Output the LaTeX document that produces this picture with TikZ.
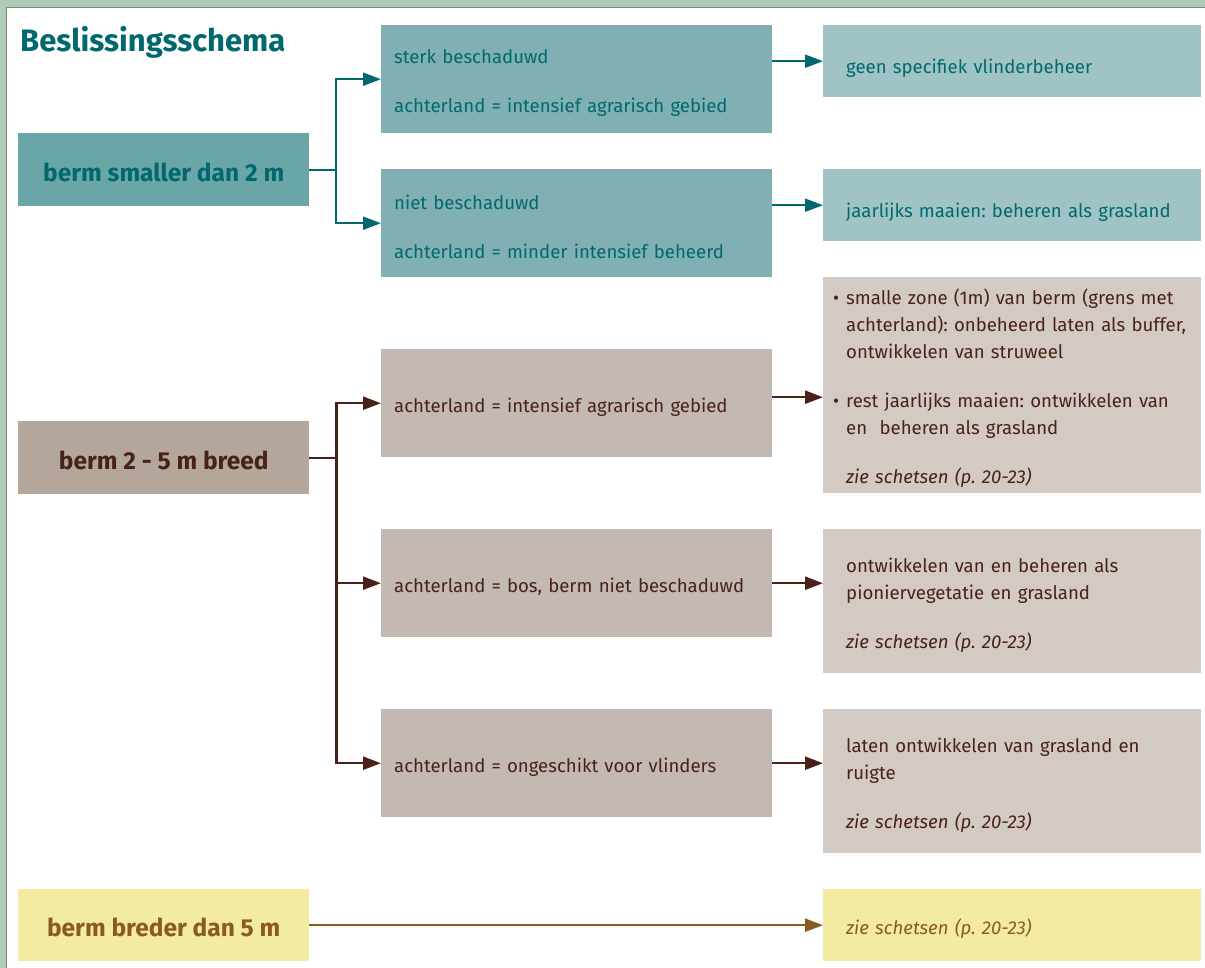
\documentclass[tikz,border=0pt]{standalone}
\usepackage{fontspec}
\setmainfont{Fira Sans}
\frenchspacing
\usetikzlibrary{positioning}
\usetikzlibrary{calc}
\usetikzlibrary{arrows.meta}

\definecolor{tealdark}{RGB}{0,105,110}
\definecolor{tealA}{RGB}{106,165,168}
\definecolor{tealB}{RGB}{128,176,179}
\definecolor{tealC}{RGB}{160,196,197}
\definecolor{browndark}{RGB}{72,34,24}
\definecolor{brownA}{RGB}{181,166,156}
\definecolor{brownB}{RGB}{195,184,178}
\definecolor{brownC}{RGB}{211,202,195}
\definecolor{gold}{RGB}{139,90,30}
\definecolor{yellowbox}{RGB}{242,235,160}
\definecolor{edgegreen}{RGB}{174,203,184}
\definecolor{edgeline}{RGB}{125,140,110}

\begin{document}
\begin{tikzpicture}[x=1pt, y=-1pt,
			box/.style={anchor=north west, inner ysep=0pt, align=left, font=\fontsize{18.6}{27}\selectfont},
			keybox/.style={anchor=north west, inner sep=0pt, minimum width=291pt, minimum height=73pt, text height=23pt, text depth=0pt, font=\fontsize{24.5}{28}\selectfont\bfseries},
			midbox/.style={box, minimum width=391pt, minimum height=108pt, inner xsep=0pt, text width=391pt, execute at begin node={\leftskip=13pt\rule{0pt}{22pt}}},
			endbox/.style={box, minimum width=378pt, inner xsep=0pt, text width=378pt, execute at begin node={\leftskip=23pt\rule{0pt}{22pt}}},
			shortbox/.style={endbox, minimum height=72pt, execute at begin node={\leftskip=23pt\rule{0pt}{28pt}}},
			tealarrow/.style={draw=tealdark, line width=2pt, -{Triangle[length=18pt,width=13pt]}},
			brownarrow/.style={draw=browndark, line width=2.4pt, -{Triangle[length=18pt,width=13pt]}},
			goldarrow/.style={draw=gold, line width=2.4pt, -{Triangle[length=18pt,width=13pt]}}
		]
			\useasboundingbox (0,0) rectangle (1205,968);
			\fill[white] (0,0) rectangle (1205,968);
			\fill[edgegreen] (0,0) rectangle (1205,7);
			\fill[edgegreen] (0,0) rectangle (6,968);
			\draw[edgeline, line width=1pt] (6.5,968) -- (6.5,7.5) -- (1205,7.5);

			\node[anchor=base west, inner sep=0pt, text=tealdark, font=\fontsize{31}{36}\selectfont\bfseries] (T) at (20,52) {Beslissingsschema};

			% berm smaller dan 2 m
			\node[keybox, fill=tealA, text=tealdark] (S) at (18,133) {berm smaller dan 2 m};
			\node[midbox, fill=tealB, text=tealdark] (S1) at (381,25) {sterk beschaduwd\\[22pt]achterland = intensief agrarisch gebied};
			\node[midbox, fill=tealB, text=tealdark] (S2) at (381,169) {niet beschaduwd\\[22pt]achterland = minder intensief beheerd};
			\node[shortbox, fill=tealC, text=tealdark] (S1r) at (823,25) {geen specifiek vlinderbeheer};
			\node[shortbox, fill=tealC, text=tealdark] (S2r) at (823,169) {jaarlijks maaien: beheren als grasland};

			\draw[draw=tealdark, line width=2pt] (S.east) -- ++(27,0) coordinate (Sj);
			\draw[tealarrow] (Sj) |- (S1.west);
			\draw[tealarrow] (Sj) |- (S2.west);
			\draw[tealarrow] (S1.east |- S1r.west) -- (S1r.west);
			\draw[tealarrow] (S2.east |- S2r.west) -- (S2r.west);

			% berm 2 - 5 m breed
			\node[keybox, fill=brownA, text=browndark] (M) at (18,421) {berm 2 - 5 m breed};
			\node[midbox, fill=brownB, text=browndark] (M1) at (381,349) {achterland = intensief agrarisch gebied};
			\node[midbox, fill=brownB, text=browndark] (M2) at (381,529) {achterland = bos, berm niet beschaduwd};
			\node[midbox, fill=brownB, text=browndark] (M3) at (381,709) {achterland = ongeschikt voor vlinders};
			\node[endbox, minimum height=216pt, fill=brownC, text=browndark] (M1r) at (823,277) {\llap{\textbullet\hspace{7pt}}smalle zone (1m) van berm (grens met\\achterland): onbeheerd laten als buffer,\\ontwikkelen van struweel\\[22pt]\leavevmode\llap{\textbullet\hspace{7pt}}rest jaarlijks maaien: ontwikkelen van\\en\ \ beheren als grasland\\[22pt]\textit{zie schetsen (p. 20-23)}};
			\node[endbox, minimum height=144pt, fill=brownC, text=browndark] (M2r) at (823,529) {ontwikkelen van en beheren als\\pioniervegetatie en grasland\\[22pt]\textit{zie schetsen (p. 20-23)}};
			\node[endbox, minimum height=144pt, fill=brownC, text=browndark] (M3r) at (823,709) {laten ontwikkelen van grasland en\\ruigte\\[22pt]\textit{zie schetsen (p. 20-23)}};

			\draw[draw=browndark, line width=2.4pt] (M.east) -- ++(27,0) coordinate (Mj);
			\draw[brownarrow] (Mj) |- (M1.west);
			\draw[brownarrow] (Mj) |- (M2.west);
			\draw[brownarrow] (Mj) |- (M3.west);
			\draw[brownarrow] ([yshift=6pt]M1.east) -- ([yshift=6pt]M1.east -| M1r.west);
			\draw[brownarrow] (M2.east) -- (M2.east -| M2r.west);
			\draw[brownarrow] (M3.east) -- (M3.east -| M3r.west);

			% berm breder dan 5 m
			\node[keybox, minimum height=72pt, fill=yellowbox, text=gold] (W) at (18,889) {berm breder dan 5 m};
			\node[endbox, minimum height=72pt, fill=yellowbox, text=gold, font=\fontsize{18.6}{27}\selectfont\itshape] (Wr) at (823,889) {zie schetsen (p. 20-23)};
			\draw[goldarrow] (W.east) -- (W.east -| Wr.west);
		\end{tikzpicture}
\end{document}
